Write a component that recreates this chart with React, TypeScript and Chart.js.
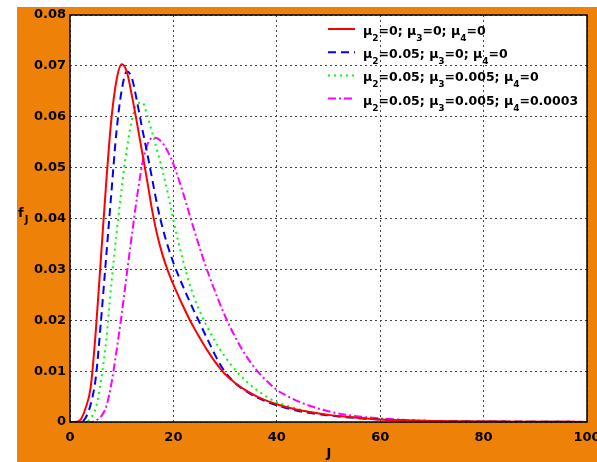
import React, { useEffect, useRef } from "react";
import { Chart, registerables } from "chart.js";

Chart.register(...registerables);

// ---- data ----
const J = [0, 1, 2, 3, 4, 5, 6, 7, 8, 9, 10, 11, 12, 13, 14, 15, 16, 17, 18, 19, 20, 21, 22, 23, 24, 25, 26, 27, 28, 29, 30, 32, 34, 36, 38, 40, 42, 45, 50, 55, 60, 65, 70, 80, 90, 100];

const seriesRed = [0, 0, 0.0004, 0.0027, 0.0068, 0.018, 0.0325, 0.047, 0.0595, 0.0672, 0.0703, 0.0688, 0.064, 0.0585, 0.0528, 0.047, 0.041, 0.0362, 0.0325, 0.0295, 0.027, 0.0247, 0.0225, 0.0204, 0.0185, 0.0167, 0.015, 0.0134, 0.0119, 0.0106, 0.0094, 0.0076, 0.0062, 0.0051, 0.0042, 0.0035, 0.0029, 0.0022, 0.0014, 0.0009, 0.0005, 0.0003, 0.0002, 0.0001, 0.00004, 0.00002];

const seriesBlue = [0, 0, 0, 0.0008, 0.0035, 0.0088, 0.02, 0.0325, 0.045, 0.0572, 0.0652, 0.0689, 0.0675, 0.0628, 0.0575, 0.0525, 0.0472, 0.042, 0.0378, 0.0343, 0.0313, 0.0287, 0.0263, 0.024, 0.0218, 0.0197, 0.0175, 0.0154, 0.0133, 0.0114, 0.0098, 0.0076, 0.0061, 0.0049, 0.004, 0.0033, 0.0027, 0.002, 0.0013, 0.0008, 0.0005, 0.0003, 0.0002, 0.0001, 0.00004, 0.00002];

const seriesGreen = [0, 0, 0, 0, 0.0008, 0.0028, 0.0082, 0.016, 0.0272, 0.037, 0.046, 0.0537, 0.0595, 0.0625, 0.0628, 0.06, 0.0565, 0.0528, 0.049, 0.0445, 0.0397, 0.0352, 0.0312, 0.0275, 0.0245, 0.022, 0.0198, 0.0178, 0.016, 0.0143, 0.0128, 0.0102, 0.0081, 0.0064, 0.005, 0.0039, 0.0032, 0.0023, 0.0014, 0.0009, 0.0005, 0.0003, 0.0002, 0.0001, 0.00004, 0.00002];

const seriesMagenta = [0, 0, 0, 0, 0, 0.0003, 0.0011, 0.003, 0.0075, 0.014, 0.0212, 0.0292, 0.037, 0.0445, 0.0508, 0.0546, 0.0559, 0.0557, 0.0547, 0.053, 0.0507, 0.0478, 0.0446, 0.0412, 0.0378, 0.0345, 0.0314, 0.0285, 0.0258, 0.0232, 0.0208, 0.0166, 0.0131, 0.0103, 0.0081, 0.0063, 0.0051, 0.0037, 0.0021, 0.0012, 0.0007, 0.0004, 0.0002, 0.0001, 0.00005, 0.00002];

const legendLabels = [
  "μ_2=0; μ_3=0; μ_4=0",
  "μ_2=0.05; μ_3=0; μ_4=0",
  "μ_2=0.05; μ_3=0.005; μ_4=0",
  "μ_2=0.05; μ_3=0.005; μ_4=0.0003",
];

const xTickValues = [0, 20, 40, 60, 80, 100];
const yTickValues = [0, 0.01, 0.02, 0.03, 0.04, 0.05, 0.06, 0.07, 0.08];

const xTitle = "J";
const yTitleMain = "f";
const yTitleSub = "J";

const FONT = "DejaVu Sans";

function drawRich(ctx: CanvasRenderingContext2D, text: string, x: number, y: number, size: number) {
  const parts = text.split(/_(\d)/);
  let cx = x;
  parts.forEach((p, i) => {
    if (i % 2 === 0) {
      ctx.font = `bold ${size}px "${FONT}"`;
      ctx.fillText(p, cx, y);
      cx += ctx.measureText(p).width;
    } else {
      ctx.font = `bold ${size - 3.5}px "${FONT}"`;
      ctx.fillText(p, cx, y + 6);
      cx += ctx.measureText(p).width;
    }
  });
}

export default function App() {
  const ref = useRef<HTMLCanvasElement | null>(null);

  useEffect(() => {
    if (!ref.current) return;
    const colors = ["#ff0000", "#0000ff", "#00ff00", "#ff00ff"];
    const dashes = [[], [8, 5], [2, 4], [8, 3, 2, 3]];
    const all = [seriesRed, seriesBlue, seriesGreen, seriesMagenta];

    const overlay = {
      id: "overlay",
      beforeDraw(chart: any) {
        const { ctx, chartArea: a } = chart;
        ctx.save();
        ctx.fillStyle = "#ffffff";
        ctx.fillRect(a.left, a.top, a.right - a.left, a.bottom - a.top);
        ctx.restore();
      },
      afterDraw(chart: any) {
        const { ctx, chartArea: a } = chart;
        ctx.save();
        ctx.strokeStyle = "#000";
        ctx.lineWidth = 1.5;
        ctx.setLineDash([]);
        ctx.strokeRect(a.left, a.top, a.right - a.left, a.bottom - a.top);
        const lx0 = a.left + 258;
        const lx1 = a.left + 285;
        const tx = a.left + 293;
        legendLabels.forEach((lab, i) => {
          const y = a.top + 14 + i * 23.2;
          ctx.strokeStyle = colors[i];
          ctx.lineWidth = 2;
          ctx.setLineDash(dashes[i]);
          ctx.beginPath();
          ctx.moveTo(lx0, y);
          ctx.lineTo(lx1, y);
          ctx.stroke();
          ctx.setLineDash([]);
          ctx.fillStyle = "#000";
          ctx.textBaseline = "alphabetic";
          ctx.textAlign = "left";
          drawRich(ctx, lab, tx, y + 6, 12.5);
        });
        ctx.fillStyle = "#000";
        ctx.textAlign = "left";
        ctx.textBaseline = "alphabetic";
        ctx.font = `bold 13px "${FONT}"`;
        ctx.fillText(yTitleMain, 1, 210);
        const fw = ctx.measureText(yTitleMain).width;
        ctx.font = `bold 10px "${FONT}"`;
        ctx.fillText(yTitleSub, 1 + fw + 1, 216);
        ctx.font = `bold 13px "${FONT}"`;
        ctx.textAlign = "center";
        ctx.fillText(xTitle, 312, 450);
        ctx.restore();
      },
    };

    const chart = new Chart(ref.current, {
      type: "line",
      data: {
        datasets: all.map((s, i) => ({
          label: legendLabels[i],
          data: J.map((x, k) => ({ x, y: s[k] })),
          borderColor: colors[i],
          borderWidth: 2,
          borderDash: dashes[i],
          pointRadius: 0,
          fill: false,
          cubicInterpolationMode: "monotone" as const,
        })),
      },
      options: {
        responsive: false,
        animation: false,
        layout: { padding: { top: 8, right: 10, left: 0, bottom: 0 } },
        plugins: { legend: { display: false }, tooltip: { enabled: false } },
        scales: {
          x: {
            type: "linear",
            min: 0,
            max: 100,
            afterBuildTicks: (scale: any) => {
              scale.ticks = xTickValues.map((v) => ({ value: v }));
            },
            afterFit: (scale: any) => {
              scale.height = 40;
              scale.paddingLeft = 0;
              scale.paddingRight = 0;
            },
            ticks: {
              color: "#000",
              font: { family: FONT, size: 13, weight: "bold" },
              padding: 8,
              maxRotation: 0,
              autoSkip: false,
            },
            grid: { color: "#444", lineWidth: 1, drawTicks: false },
            border: { display: false, dash: [2, 3] },
          },
          y: {
            type: "linear",
            min: 0,
            max: 0.08,
            afterBuildTicks: (scale: any) => {
              scale.ticks = yTickValues.map((v) => ({ value: v }));
            },
            afterFit: (scale: any) => {
              scale.width = 53;
              scale.paddingTop = 0;
              scale.paddingBottom = 0;
            },
            ticks: {
              color: "#000",
              font: { family: FONT, size: 13, weight: "bold" },
              padding: 4,
              autoSkip: false,
              callback: (v: any) => (Number(v) === 0 ? "0" : Number(v).toFixed(2)),
            },
            grid: { color: "#444", lineWidth: 1, drawTicks: false },
            border: { display: false, dash: [2, 3] },
          },
        },
      },
      plugins: [overlay],
    } as any);
    return () => chart.destroy();
  }, []);

  return (
    <div style={{ position: "absolute", left: 17, top: 7, width: 580, height: 455, background: "#ee8208", overflow: "hidden" }}>
      <canvas ref={ref} width={580} height={455} style={{ display: "block" }} />
    </div>
  );
}
